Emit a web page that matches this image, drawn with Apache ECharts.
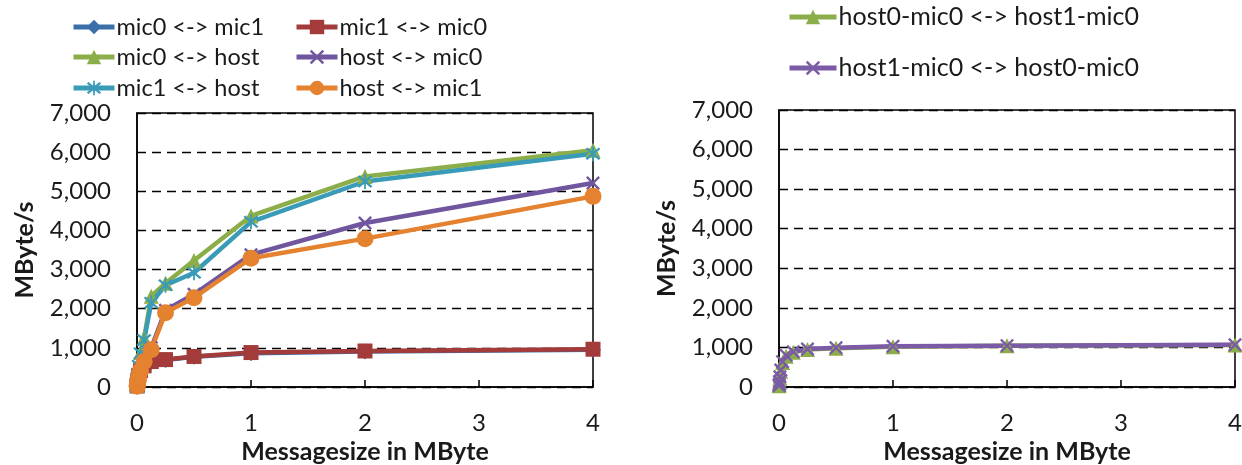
<!DOCTYPE html>
<html>
<head>
<meta charset="utf-8">
<script src="https://cdn.jsdelivr.net/npm/echarts@6/dist/echarts.min.js"></script>
<style>html,body{margin:0;padding:0;background:#fff}#c{width:1242px;height:465px}</style>
</head>
<body>
<div id="c"></div>
<script>
// Message sizes in MByte (1 KB ... 4 MB)
const sizes = [0.0009765625, 0.001953125, 0.00390625, 0.0078125, 0.015625, 0.03125, 0.0625, 0.125, 0.25, 0.5, 1, 2, 4];
// Left chart series (MByte/s)
const mic0_mic1 = [22, 48, 95, 175, 290, 410, 530, 640, 690, 770, 865, 905, 952];
const mic1_mic0 = [25, 50, 100, 180, 300, 420, 540, 650, 700, 780, 880, 920, 965];
const mic0_host = [40, 80, 160, 320, 560, 880, 1250, 2320, 2650, 3230, 4370, 5380, 6050];
const host_mic0 = [20, 40, 80, 160, 300, 480, 700, 1000, 1960, 2370, 3380, 4190, 5210];
const mic1_host = [40, 80, 160, 310, 540, 860, 1200, 2150, 2600, 2920, 4220, 5250, 5960];
const host_mic1 = [20, 40, 80, 150, 260, 420, 650, 950, 1900, 2280, 3290, 3790, 4870];
// Right chart series
const h0m0_h1m0 = [30, 60, 120, 230, 400, 620, 780, 880, 950, 980, 1020, 1040, 1060];
const h1m0_h0m0 = [35, 70, 140, 260, 430, 640, 800, 890, 960, 990, 1030, 1045, 1065];
// Tick labels
const xTicks = [0, 1, 2, 3, 4];
const yTicks = [0, 1000, 2000, 3000, 4000, 5000, 6000, 7000];

const FONT = 'Lato';
const X_SYM = 'path://M0,1.2L1.2,0L5,3.8L8.8,0L10,1.2L6.2,5L10,8.8L8.8,10L5,6.2L1.2,10L0,8.8L3.8,5Z';
const AST_SYM = 'path://M0,1.2L1.2,0L5,3.8L8.8,0L10,1.2L6.2,5L10,8.8L8.8,10L5,6.2L1.2,10L0,8.8L3.8,5ZM4.4,-1L5.6,-1L5.6,11L4.4,11Z';

function pts(vals){ return sizes.map((s,i)=>[s, vals[i]]); }
function ser(name, vals, color, symbol, size, idx){
  return {name, type:'line', xAxisIndex:idx, yAxisIndex:idx, data:pts(vals),
    symbol, symbolSize:size, showSymbol:true,
    lineStyle:{color, width:4.5}, itemStyle:{color},
    emphasis:{disabled:true}, animation:false, z: 2};
}
function xAx(idx){
  return {type:'value', gridIndex:idx, min:0, max:4, interval:1,
    name:'Messagesize in MByte', nameLocation:'middle', nameGap:50,
    nameTextStyle:{fontFamily:FONT, fontWeight:'bold', fontSize:25, color:'#1a1a1a'},
    axisLine:{lineStyle:{color:'#000', width:1.5}},
    axisTick:{show:true, inside:true, length:7, lineStyle:{color:'#000', width:1.5}},
    axisLabel:{fontFamily:FONT, fontSize:24, color:'#1a1a1a', margin:24},
    splitLine:{show:false}};
}
function yAx(idx){
  return {type:'value', gridIndex:idx, min:0, max:7000, interval:1000,
    name:'MByte/s', nameLocation:'middle', nameGap:100, nameRotate:90,
    nameTextStyle:{fontFamily:FONT, fontWeight:'bold', fontSize:25, color:'#1a1a1a'},
    axisLine:{show:true, lineStyle:{color:'#000', width:1.5}},
    axisTick:{show:false},
    axisLabel:{fontFamily:FONT, fontSize:24, color:'#1a1a1a', margin:26,
      formatter:v=>v.toLocaleString('en-US')},
    splitLine:{show:true, lineStyle:{color:'#000', width:1.3, type:[9,6]}}};
}
function leg(name, left, cy, iw, fs){
  return {data:[name], left, top:cy-13, itemWidth:iw, itemHeight:18, padding:0,
    selectedMode:false, lineStyle:{width:5},
    textStyle:{fontFamily:FONT, fontSize:fs, color:'#1a1a1a', lineHeight:26, padding:[0,0,0,-3]}};
}

const chart = echarts.init(document.getElementById('c'), null, {renderer:'canvas'});
chart.setOption({
  backgroundColor:'#fff',
  animation:false,
  grid:[
    {left:137, right:649, top:113, bottom:78, show:true, borderColor:'#000', borderWidth:1.5, outerBoundsMode:'none', containLabel:false},
    {left:779, right:7, top:110, bottom:78, show:true, borderColor:'#000', borderWidth:1.5, outerBoundsMode:'none', containLabel:false}
  ],
  xAxis:[xAx(0), xAx(1)],
  yAxis:[yAx(0), yAx(1)],
  legend:[
    leg('mic0 <-> mic1', 71, 27, 41, 23.5),
    leg('mic0 <-> host', 71, 57, 41, 23.5),
    leg('mic1 <-> host', 71, 88, 41, 23.5),
    leg('mic1 <-> mic0', 294, 27, 41, 23.5),
    leg('host <-> mic0', 294, 57, 41, 23.5),
    leg('host <-> mic1', 294, 88, 41, 23.5),
    leg('host0-mic0 <-> host1-mic0', 787, 17, 47, 25),
    leg('host1-mic0 <-> host0-mic0', 787, 68, 47, 25)
  ],
  series:[
    ser('mic0 <-> mic1', mic0_mic1, '#3C6EAA', 'diamond', 16, 0),
    ser('mic1 <-> mic0', mic1_mic0, '#A33B3A', 'rect', 15, 0),
    ser('mic0 <-> host', mic0_host, '#8BAE4A', 'triangle', 15, 0),
    ser('host <-> mic0', host_mic0, '#70569E', X_SYM, 14, 0),
    ser('mic1 <-> host', mic1_host, '#3A9BB8', AST_SYM, 15, 0),
    ser('host <-> mic1', host_mic1, '#E5822F', 'circle', 17, 0),
    ser('host0-mic0 <-> host1-mic0', h0m0_h1m0, '#8BAE4A', 'triangle', 15, 1),
    ser('host1-mic0 <-> host0-mic0', h1m0_h0m0, '#7B5BA6', X_SYM, 14, 1)
  ]
});
</script>
</body>
</html>
